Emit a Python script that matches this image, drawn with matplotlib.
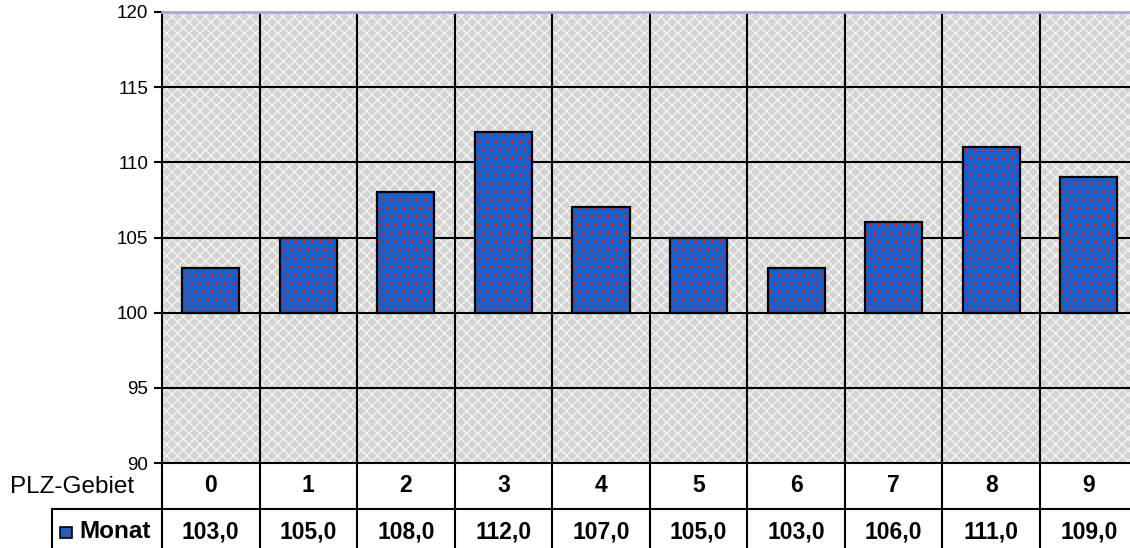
import matplotlib.pyplot as plt
from matplotlib.patches import Rectangle
import numpy as np

plt.rcParams['font.family'] = ['Liberation Sans', 'DejaVu Sans']
plt.rcParams['hatch.linewidth'] = 0.9

# data
gebiete = ['0', '1', '2', '3', '4', '5', '6', '7', '8', '9']
monat = [103.0, 105.0, 108.0, 112.0, 107.0, 105.0, 103.0, 106.0, 111.0, 109.0]
yticks = [90, 95, 100, 105, 110, 115, 120]

W, H = 1130, 548
fig = plt.figure(figsize=(W / 100, H / 100), dpi=100)
# plot area runs past the right edge, like in the screenshot
ax = fig.add_axes([162 / W, (H - 463) / H, 975.6 / W, 451 / H])

ax.patch.set_facecolor('#d3d3d3')
ax.patch.set_edgecolor('#f6f6f6')
ax.patch.set_hatch('xxx')
ax.patch.set_linewidth(0)

x = np.arange(len(gebiete))
heights = [v - 100 for v in monat]
ax.bar(x, heights, bottom=100, width=0.585, color='#1a5fc9', edgecolor='#d8232a',
       hatch='..', linewidth=0, zorder=3)
ax.bar(x, heights, bottom=100, width=0.585, fill=False, edgecolor='black',
       linewidth=1.6, zorder=4)

ax.set_xlim(-0.5, 9.5)
ax.set_ylim(90, 120)
ax.set_yticks(yticks)
ax.tick_params(axis='y', labelsize=13.5, length=6, width=1.5, pad=4, direction='out')
ax.set_xticks([])

for y in yticks[1:-1]:
    ax.axhline(y, color='black', lw=1.5, zorder=2)
for b in np.arange(0.5, 9.5, 1):
    ax.axvline(b, color='black', lw=1.5, zorder=2)

ax.spines['right'].set_visible(False)
ax.spines['top'].set_color('#a9a9d6')
ax.spines['top'].set_linewidth(2)
ax.spines['left'].set_linewidth(1.5)
ax.spines['bottom'].set_linewidth(1.5)

# data table below the plot
tr = ax.get_xaxis_transform()
row = 46 / 451
for b in np.arange(-0.5, 10.5, 1):
    ax.plot([b, b], [0, -3 * row], color='black', lw=1.5, transform=tr, clip_on=False)
ax.plot([-0.5, 9.6], [-row, -row], color='black', lw=1.5, transform=tr, clip_on=False)

for i, g in enumerate(gebiete):
    ax.text(i, -row / 2, g, transform=tr, ha='center', va='center',
            fontsize=16.5, fontweight='bold')
    ax.text(i, -row * 1.5, f'{monat[i]:.1f}'.replace('.', ','), transform=tr,
            ha='center', va='center', fontsize=16.5, fontweight='bold')

fig.text(10 / W, (H - 487) / H, 'PLZ-Gebiet', ha='left', va='center', fontsize=17.5)

# legend cell
fig.add_artist(plt.Line2D([52 / W, 162 / W], [(H - 509) / H, (H - 509) / H],
                          color='black', lw=1.5))
fig.add_artist(plt.Line2D([52 / W, 52 / W], [(H - 509) / H, 0], color='black', lw=1.5))
fig.add_artist(Rectangle((60 / W, (H - 538) / H), 12 / W, 11 / H, facecolor='#1a5fc9',
                         edgecolor='#d8232a', hatch='..', lw=0, transform=fig.transFigure))
fig.add_artist(Rectangle((60 / W, (H - 538) / H), 12 / W, 11 / H, fill=False,
                         edgecolor='black', lw=1.2, transform=fig.transFigure))
fig.text(79 / W, (H - 532) / H, 'Monat', ha='left', va='center', fontsize=17.5,
         fontweight='bold')

fig.savefig('out.png', dpi=100)
